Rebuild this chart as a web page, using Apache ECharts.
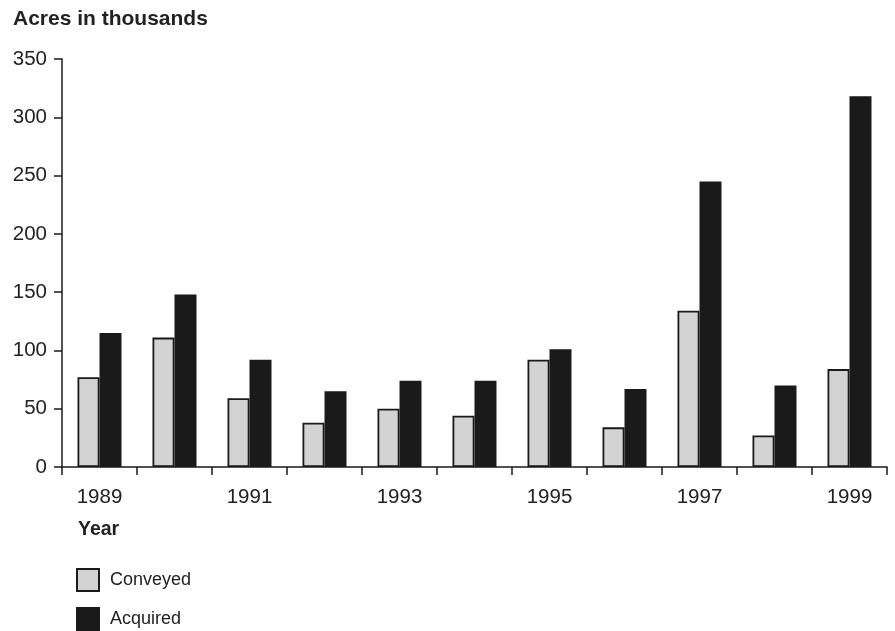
<!DOCTYPE html>
<html>
<head>
<meta charset="utf-8">
<script src="https://cdn.jsdelivr.net/npm/echarts@6/dist/echarts.min.js"></script>
<style>html,body{margin:0;padding:0;background:#fff;}#c{width:895px;height:631px;}</style>
</head>
<body>
<div id="c"></div>
<script>
const years = ['1989','1990','1991','1992','1993','1994','1995','1996','1997','1998','1999'];
const conveyed = [77, 111, 59, 38, 50, 44, 92, 34, 134, 27, 84];
const acquired = [115, 148, 92, 65, 74, 74, 101, 67, 245, 70, 318];
const yTicks = {min: 0, max: 350, interval: 50};

const chart = echarts.init(document.getElementById('c'));
const font = 'Liberation Sans, Arial, sans-serif';
chart.setOption({
  animation: false,
  textStyle: {fontFamily: font},
  title: [
    {text: 'Acres in thousands', left: 8, top: 4, textStyle: {fontSize: 21, fontWeight: 'bold', color: '#222', fontFamily: font}},
    {text: 'Year', left: 73, top: 515, textStyle: {fontSize: 19.5, fontWeight: 'bold', color: '#222', fontFamily: font}}
  ],
  legend: {
    orient: 'vertical', left: 76, top: 568, padding: 0, itemWidth: 22, itemHeight: 22, itemGap: 15,
    icon: 'rect', textStyle: {fontSize: 18, color: '#222', fontFamily: font, padding: [0,0,0,6]},
    data: ['Conveyed', 'Acquired']
  },
  grid: {left: 62, right: 8, top: 59, bottom: 164, containLabel: false},
  xAxis: {
    type: 'category', data: years,
    axisLine: {show: true, lineStyle: {color: '#1a1a1a', width: 1.5}},
    axisTick: {show: true, interval: 0, length: 8, lineStyle: {color: '#1a1a1a', width: 1.5}},
    axisLabel: {interval: 1, fontSize: 20.5, color: '#222', margin: 20, fontFamily: font}
  },
  yAxis: {
    type: 'value', min: yTicks.min, max: yTicks.max, interval: yTicks.interval,
    axisLine: {show: true, lineStyle: {color: '#1a1a1a', width: 1.5}},
    axisTick: {show: true, length: 8, lineStyle: {color: '#1a1a1a', width: 1.5}},
    axisLabel: {fontSize: 20.5, color: '#222', margin: 15, fontFamily: font},
    splitLine: {show: false}
  },
  series: [
    {name: 'Conveyed', type: 'bar', data: conveyed, barWidth: 22, barGap: '0%',
     itemStyle: {color: '#d3d3d3', borderColor: '#1a1a1a', borderWidth: 1.8}},
    {name: 'Acquired', type: 'bar', data: acquired, barWidth: 22, barGap: '0%',
     itemStyle: {color: '#1a1a1a', borderColor: '#1a1a1a', borderWidth: 1.5}}
  ]
});
</script>
</body>
</html>
